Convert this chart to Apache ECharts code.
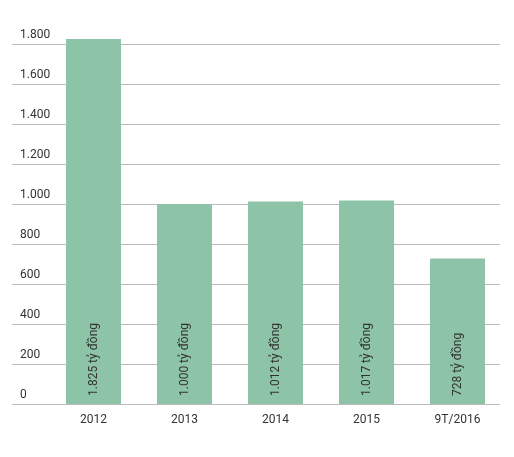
<!DOCTYPE html><html><head><meta charset="utf-8"><script src="https://cdn.jsdelivr.net/npm/echarts@6/dist/echarts.min.js"></script></head><body style="margin:0"><div id="c" style="width:514px;height:457px"></div><script>
const categories=['2012','2013','2014','2015','9T/2016'];
const values=[1825,1000,1012,1017,728];
const barLabels=['1.825 tỷ đồng','1.000 tỷ đồng','1.012 tỷ đồng','1.017 tỷ đồng','728 tỷ đồng'];
const fmt=v=>v>=1000?String(v).replace(/(\d)(\d{3})$/,'$1.$2'):String(v);
const c=echarts.init(document.getElementById('c'));
c.setOption({animation:false,
grid:[{left:12,right:14,top:44,bottom:53},{left:48,right:11,top:39,bottom:53}],
xAxis:[{gridIndex:0,type:'category',show:false,data:categories},
{gridIndex:1,type:'category',data:categories,axisLine:{show:false},axisTick:{show:false},axisLabel:{color:'#333',fontSize:12,fontFamily:'Roboto',margin:10}}],
yAxis:[{gridIndex:0,type:'value',min:0,max:1800,interval:200,axisLine:{show:false},axisTick:{show:false},
axisLabel:{inside:true,verticalAlign:'bottom',padding:[0,0,3,0],color:'#333',fontSize:12,fontFamily:'Roboto',formatter:fmt},
splitLine:{lineStyle:{color:'#bbb'}}},
{gridIndex:1,type:'value',min:0,max:1825,show:false,splitLine:{show:false}}],
series:[{type:'bar',xAxisIndex:1,yAxisIndex:1,data:values,barWidth:55,itemStyle:{color:'#8dc3a7'},
label:{show:true,position:'insideBottom',rotate:90,align:'left',verticalAlign:'middle',distance:8,color:'#333',fontSize:12,fontFamily:'Roboto',formatter:p=>barLabels[p.dataIndex]}}]});
</script></body></html>
